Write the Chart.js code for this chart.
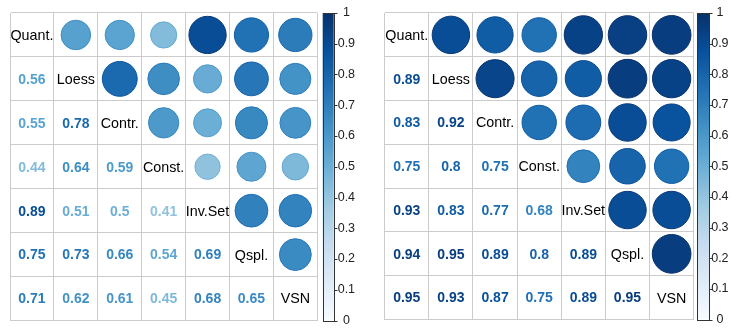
<!DOCTYPE html>
<html>
<head>
<meta charset="utf-8">
<script src="https://cdn.jsdelivr.net/npm/chart.js@4.4.0/dist/chart.umd.min.js"></script>
<style>
  html, body { margin: 0; padding: 0; background: #fff; }
  .panel { position: absolute; top: 0; }
</style>
</head>
<body>
<div class="panel" style="left:0"><canvas id="left" width="372" height="330"></canvas></div>
<div class="panel" style="left:372px"><canvas id="right" width="371" height="330"></canvas></div>
<script>
const methods = ['Quant.', 'Loess', 'Contr.', 'Const.', 'Inv.Set', 'Qspl.', 'VSN'];

// lower triangle of each correlation matrix, row by row
const corrLeft = [
  [],
  [0.56],
  [0.55, 0.78],
  [0.44, 0.64, 0.59],
  [0.89, 0.51, 0.5, 0.41],
  [0.75, 0.73, 0.66, 0.54, 0.69],
  [0.71, 0.62, 0.61, 0.45, 0.68, 0.65]
];
const corrRight = [
  [],
  [0.89],
  [0.83, 0.92],
  [0.75, 0.8, 0.75],
  [0.93, 0.83, 0.77, 0.68],
  [0.94, 0.95, 0.89, 0.8, 0.89],
  [0.95, 0.93, 0.87, 0.75, 0.89, 0.95]
];
const legendTicks = [0, 0.1, 0.2, 0.3, 0.4, 0.5, 0.6, 0.7, 0.8, 0.9, 1];
const blues = ['#F7FBFF', '#DEEBF7', '#C6DBEF', '#9ECAE1', '#6BAED6', '#4292C6', '#2171B5', '#08519C', '#08306B'];

const FONT = '"Liberation Sans", Arial, sans-serif';

function hexToRgb(h) {
  return [1, 3, 5].map(i => parseInt(h.slice(i, i + 2), 16));
}

function colorFor(v) {
  const t = Math.max(0, Math.min(1, v)) * (blues.length - 1);
  const i = Math.min(Math.floor(t), blues.length - 2);
  const f = t - i;
  const a = hexToRgb(blues[i]);
  const b = hexToRgb(blues[i + 1]);
  const c = a.map((x, k) => Math.round(x + (b[k] - x) * f));
  return 'rgb(' + c.join(',') + ')';
}

function circlePoints(m) {
  const pts = [];
  for (let i = 0; i < methods.length; i++) {
    for (let j = i + 1; j < methods.length; j++) {
      pts.push({ x: methods[j], y: methods[i], v: m[j][i] });
    }
  }
  return pts;
}

function makeChart(id, m, opts) {
  const cellSize = chart => {
    const xs = chart.scales.x;
    return Math.abs(xs.getPixelForValue(1) - xs.getPixelForValue(0));
  };

  const textPlugin = {
    id: 'corrText',
    afterDatasetsDraw(chart) {
      const ctx = chart.ctx;
      const xs = chart.scales.x;
      const ys = chart.scales.y;
      ctx.save();
      ctx.textAlign = 'center';
      ctx.textBaseline = 'middle';
      for (let i = 0; i < methods.length; i++) {
        for (let j = 0; j <= i; j++) {
          const px = xs.getPixelForValue(j);
          const py = ys.getPixelForValue(i);
          if (i === j) {
            ctx.font = '14.3px ' + FONT;
            ctx.fillStyle = '#000';
            ctx.fillText(methods[i], px, py + 1);
          } else {
            const v = m[i][j];
            ctx.font = 'bold 14px ' + FONT;
            ctx.fillStyle = colorFor(v);
            ctx.fillText(String(v), px, py + 1);
          }
        }
      }
      ctx.restore();
    }
  };

  const barPlugin = {
    id: 'colorBar',
    afterDraw(chart) {
      const ctx = chart.ctx;
      const s = chart.scales.cb;
      const x0 = s.left + opts.barGap;
      const top = s.getPixelForValue(1);
      const bottom = s.getPixelForValue(0);
      const grad = ctx.createLinearGradient(0, bottom, 0, top);
      blues.forEach((c, k) => grad.addColorStop(k / (blues.length - 1), c));
      ctx.save();
      ctx.fillStyle = grad;
      ctx.fillRect(x0, top, opts.barWidth, bottom - top);
      ctx.strokeStyle = '#333';
      ctx.lineWidth = 1;
      ctx.strokeRect(Math.round(x0) + 0.5, Math.round(top) + 0.5, Math.round(opts.barWidth), Math.round(bottom - top));
      ctx.beginPath();
      legendTicks.forEach(t => {
        const y = Math.round(s.getPixelForValue(t)) + 0.5;
        ctx.moveTo(Math.round(x0 + opts.barWidth) + 0.5, y);
        ctx.lineTo(Math.round(x0 + opts.barWidth) + 3.5, y);
      });
      ctx.stroke();
      ctx.restore();
    }
  };

  const gridOpts = { offset: true, color: '#cccccc', lineWidth: 1, drawTicks: false };

  return new Chart(document.getElementById(id), {
    type: 'scatter',
    data: {
      datasets: [{
        data: circlePoints(m),
        pointRadius: c => 0.45 * Math.sqrt(c.raw.v) * cellSize(c.chart),
        backgroundColor: c => colorFor(c.raw.v),
        borderColor: c => colorFor(Math.min(1, c.raw.v + 0.08)),
        borderWidth: 1
      }]
    },
    options: {
      responsive: false,
      animation: false,
      devicePixelRatio: 1,
      events: [],
      layout: { padding: opts.padding },
      plugins: { legend: { display: false }, tooltip: { enabled: false } },
      scales: {
        x: {
          type: 'category',
          labels: methods,
          position: 'bottom',
          offset: true,
          grid: gridOpts,
          border: { color: '#cccccc' },
          ticks: { display: false },
          afterFit: s => { s.height = 0; }
        },
        y: {
          type: 'category',
          labels: methods,
          position: 'left',
          offset: true,
          grid: gridOpts,
          border: { color: '#cccccc' },
          ticks: { display: false },
          afterFit: s => { s.width = 0; }
        },
        cb: {
          type: 'linear',
          axis: 'y',
          position: 'right',
          min: 0,
          max: 1,
          afterBuildTicks: s => { s.ticks = legendTicks.map(v => ({ value: v })); },
          grid: { display: false, drawTicks: true, tickLength: opts.labelShift },
          border: { display: false },
          ticks: {
            padding: 1,
            crossAlign: 'center',
            color: '#222',
            font: { size: 12.5, family: FONT },
            callback: v => String(v)
          },
          afterFit: s => { s.width = 40; }
        }
      }
    },
    plugins: [textPlugin, barPlugin]
  });
}

makeChart('left', corrLeft, {
  padding: { left: 10, top: 13, right: 14.7, bottom: 9.5 },
  labelShift: 19.4,
  barGap: 5.4,
  barWidth: 11
});
makeChart('right', corrRight, {
  padding: { left: 12.7, top: 13, right: 9.3, bottom: 10.5 },
  labelShift: 16.5,
  barGap: 3.6,
  barWidth: 12
});
</script>
</body>
</html>
